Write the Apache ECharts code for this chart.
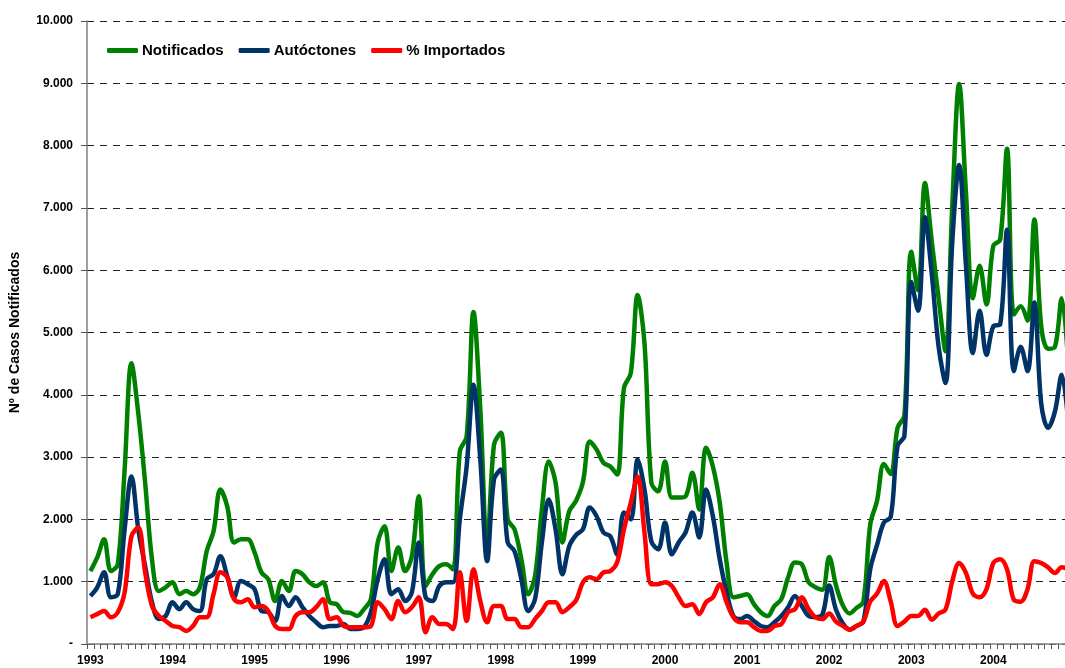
<!DOCTYPE html>
<html><head><meta charset="utf-8">
<script src="https://cdn.jsdelivr.net/npm/echarts@6/dist/echarts.min.js"></script>
<style>html,body{margin:0;padding:0;background:#fff;overflow:hidden}#c{width:1072px;height:668px}</style>
</head><body><div id="c"></div>
<script>
const years = [1993,1994,1995,1996,1997,1998,1999,2000,2001,2002,2003,2004];
const yTicks = [0,1000,2000,3000,4000,5000,6000,7000,8000,9000,10000];
const seriesNames = ['Notificados','Autóctones','% Importados'];

const notificados = [
  1170,1390,1680,1170,1280,2800,4507,3700,2590,1360,850,910,
  990,800,850,800,910,1490,1810,2480,2210,1630,1680,1680,
  1470,1150,1040,690,1010,850,1170,1120,990,930,990,670,
  640,510,500,450,560,720,1630,1890,1170,1550,1170,1410,
  2370,930,1120,1250,1280,1200,3090,3330,5330,3760,1550,3200,
  3390,2000,1840,1360,800,1090,2160,2930,2590,1630,2130,2300,
  2600,3250,3120,2910,2850,2720,4110,4350,5600,4830,2590,2450,
  2930,2350,2350,2370,2750,2160,3150,2850,2270,1310,750,770,
  800,640,510,450,610,720,1070,1310,1280,990,910,870,
  1395,940,620,490,580,680,1915,2300,2890,2730,3470,3670,
  6295,5680,7400,6460,5550,4700,7040,8990,7240,5550,6070,5450,
  6390,6490,7950,5290,5420,5190,6815,5100,4740,4770,5550,4400
];
const autoctones = [
  770,910,1150,750,800,1840,2690,1840,1250,670,400,450,
  670,560,670,560,530,1040,1120,1410,1090,750,1010,960,
  880,530,510,370,770,610,750,590,450,350,270,290,
  290,320,240,240,270,510,1040,1360,800,880,690,830,
  1630,750,690,930,990,990,2000,2850,4160,2960,1330,2640,
  2800,1630,1490,1040,530,720,1630,2320,1840,1120,1570,1750,
  1840,2190,2050,1790,1730,1440,2110,2000,2960,2480,1650,1520,
  1950,1440,1630,1790,2110,1710,2480,2050,1360,830,450,400,
  450,370,290,270,350,450,590,770,610,450,430,470,
  940,550,330,230,290,360,1200,1590,1950,2040,3180,3340,
  5810,5350,6850,5940,4770,4190,6460,7690,6070,4670,5350,4640,
  5100,5130,6650,4380,4770,4380,5480,3860,3470,3730,4320,3500
];
const importados = [
  430,480,530,430,510,830,1730,1870,1150,610,450,370,
  290,270,210,290,430,430,800,1150,1070,720,670,720,
  590,610,530,290,240,240,450,510,510,590,720,400,
  430,290,270,270,270,290,670,560,400,690,510,590,
  750,190,430,320,320,240,1150,370,1200,690,350,610,
  610,400,400,270,270,400,530,670,670,510,590,700,
  990,1070,1040,1150,1170,1310,1840,2270,2690,1790,960,960,
  990,930,750,610,640,480,670,750,960,670,430,350,
  350,270,210,210,290,320,510,560,750,560,430,400,
  490,360,290,230,290,360,680,810,1010,680,290,360,
  450,450,550,390,490,550,1010,1300,1140,810,750,880,
  1300,1360,1200,710,680,880,1330,1300,1230,1140,1230,1200
];

const categories = [];
years.forEach(y => { for (let m = 1; m <= 12; m++) categories.push(y + '-' + (m < 10 ? '0' + m : m)); });

const FONT = '"Liberation Sans", Arial, sans-serif';
const colors = ['#008000', '#003366', '#FF0000'];
const values = [notificados, autoctones, importados];

function fmtThousands(v) {
  if (v === 0) return '-';
  return String(v).replace(/\B(?=(\d{3})+(?!\d))/g, '.');
}

const chart = echarts.init(document.getElementById('c'), null, {renderer: 'canvas'});
chart.setOption({
  animation: false,
  backgroundColor: '#ffffff',
  grid: {left: 87, right: 0, top: 21, bottom: 24, containLabel: false},
  legend: {
    data: seriesNames,
    left: 107, top: 43, padding: 0,
    itemWidth: 31, itemHeight: 5, itemGap: 15,
    icon: 'roundRect',
    textStyle: {fontFamily: FONT, fontWeight: 'bold', fontSize: 15, color: '#000', padding: [0,0,0,-1]}
  },
  xAxis: {
    type: 'category',
    data: categories,
    boundaryGap: true,
    axisLine: {lineStyle: {color: '#808080', width: 1.5}},
    axisTick: {show: true, interval: 0, length: 5, lineStyle: {color: '#555', width: 1}},
    axisLabel: {
      interval: 11, margin: 11,
      fontFamily: FONT, fontWeight: 'bold', fontSize: 12, color: '#000',
      formatter: v => v.slice(0, 4)
    },
    splitLine: {show: false}
  },
  yAxis: {
    type: 'value',
    min: yTicks[0], max: yTicks[yTicks.length - 1], interval: 1000,
    name: 'Nº de Casos Notificados',
    nameLocation: 'middle', nameGap: 65, nameRotate: 90,
    nameTextStyle: {fontFamily: FONT, fontWeight: 'bold', fontSize: 14, color: '#000'},
    axisLine: {show: true, lineStyle: {color: '#808080', width: 1.5}},
    axisTick: {show: true, length: 6, lineStyle: {color: '#555'}},
    axisLabel: {
      margin: 14, fontFamily: FONT, fontWeight: 'bold', fontSize: 12, color: '#000',
      formatter: fmtThousands
    },
    splitLine: {show: true, lineStyle: {color: '#222', width: 1, type: [7, 6]}}
  },
  series: seriesNames.map((n, k) => ({
    name: n, type: 'line', data: values[k],
    smooth: 0.35, symbol: 'none',
    lineStyle: {color: colors[k], width: 4.5},
    itemStyle: {color: colors[k]},
    z: 2 + k
  }))
});
</script></body></html>
